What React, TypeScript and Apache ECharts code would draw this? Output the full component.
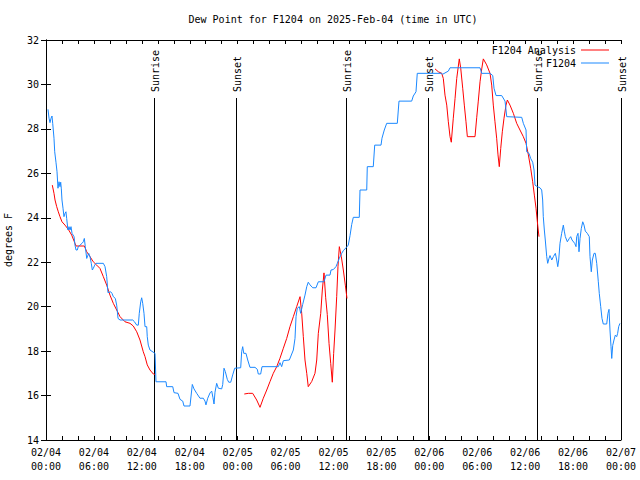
import React, { useEffect, useRef } from "react";
import * as echarts from "echarts";

const FONT = "DejaVu Sans Mono";

const titleText = "Dew Point for F1204 on 2025-Feb-04 (time in UTC)";
const yAxisName = "degrees F";
const xTickLabels = [
  "02/04\n00:00", "02/04\n06:00", "02/04\n12:00", "02/04\n18:00",
  "02/05\n00:00", "02/05\n06:00", "02/05\n12:00", "02/05\n18:00",
  "02/06\n00:00", "02/06\n06:00", "02/06\n12:00", "02/06\n18:00",
  "02/07\n00:00",
];

// hours since 02/04 00:00 UTC
const sunHours = [13.55, 23.8, 37.55, 47.87, 61.5, 71.95];
const sunLabels = ["Sunrise", "Sunset", "Sunrise", "Sunset", "Sunrise", "Sunset"];

const analysisName = "F1204 Analysis";
const stationName = "F1204";

const redHours = [
  0.79, 1.0, 1.13, 1.34, 1.54, 1.75, 2.0, 2.38, 2.79, 3.22, 3.63, 3.76, 4.8, 5.1, 5.51, 5.92,
  6.35, 6.76, 7.18, 7.6, 8.01, 8.43, 8.85, 9.27, 9.89, 10.52, 10.93, 11.36, 11.77, 12.18, 12.4,
  12.68, 13.02, 13.44, 13.65, 19.0,
  24.83, 25.33, 25.88, 26.38, 26.8, 27.21, 27.64, 28.05, 28.46, 28.89, 29.3, 29.72, 30.14,
  30.55, 30.97, 31.39, 31.81, 32.02, 32.22, 32.43, 32.65, 32.84, 33.27, 33.68, 33.9, 34.1,
  34.4, 34.6, 34.81, 35.02, 35.22, 35.44, 35.65, 35.85, 36.02, 36.19, 36.4, 36.56, 36.73,
  36.98, 37.23, 37.48, 37.69, 43.0,
  48.71, 49.13, 49.55, 49.75, 49.96, 50.18, 50.38, 50.59, 50.75, 51.0, 51.22, 51.43, 51.75,
  51.93, 52.18, 52.38, 52.59, 52.76, 53.72, 53.93, 54.13, 54.35, 54.56, 54.76, 55.18, 55.6,
  55.81, 56.01, 56.22, 56.43, 56.6, 56.76, 56.94, 57.14, 57.35, 57.6, 57.77, 58.1, 58.52,
  58.94, 59.35, 59.77, 60.11, 60.4, 60.69, 60.94, 61.15, 61.36, 61.57, 61.73,
];
const redValues = [
  25.47, 25.1, 24.8, 24.5, 24.27, 24.05, 23.82, 23.67, 23.48, 23.22, 22.85, 22.73, 22.73, 22.47,
  22.25, 22.02, 21.87, 21.72, 21.35, 20.97, 20.52, 20.15, 19.85, 19.55, 19.32, 19.25, 19.13,
  18.87, 18.5, 17.97, 17.75, 17.38, 17.15, 16.97, 16.95, null,
  16.07, 16.1, 16.1, 15.8, 15.47, 15.88, 16.25, 16.63, 17.0, 17.3, 17.68, 18.13, 18.57, 19.1,
  19.55, 20.0, 20.45, 19.7, 18.65, 17.6, 17.0, 16.4, 16.63, 17.0, 17.6, 18.8, 19.7, 20.75,
  21.52, 20.4, 19.65, 18.35, 17.45, 16.6, 17.9, 18.95, 20.45, 21.8, 22.7, 22.25, 21.65, 20.97,
  20.37, null,
  30.7, 30.57, 30.5, 30.27, 29.52, 29.07, 28.32, 27.65, 27.4, 28.48, 29.37, 30.27, 31.15, 30.73,
  29.83, 29.07, 28.32, 27.65, 27.65, 28.5, 29.25, 30.12, 30.7, 31.15, 30.88, 30.5, 29.97, 29.07,
  28.32, 27.58, 26.83, 26.3, 27.12, 27.87, 28.48, 29.07, 29.3, 29.07, 28.7, 28.25, 27.95, 27.65,
  27.35, 26.83, 26.23, 25.62, 25.02, 24.43, 23.67, 23.15,
];

const blueHours = [
  0.25, 0.38, 0.5, 0.63, 0.75, 0.84, 1.0, 1.09, 1.25, 1.38, 1.5, 1.63, 1.75, 1.84, 1.92, 2.0,
  2.13, 2.25, 2.38, 2.5, 2.59, 2.75, 2.88, 3.01, 3.13, 3.26, 3.51, 3.63, 3.76, 3.92, 4.04, 4.26,
  4.51, 4.67, 4.8, 4.92, 5.1, 5.22, 5.35, 5.51, 5.67, 5.8, 5.92, 6.1, 6.26, 7.18, 7.39, 7.6,
  7.76, 8.1, 8.26, 8.43, 8.68, 8.85, 9.02, 9.27, 10.86, 11.06, 11.36, 11.56, 11.68, 11.86,
  11.98, 12.11, 12.27, 12.4, 12.61, 12.68, 12.81, 13.02, 13.65, 13.68, 13.77, 15.03, 15.11,
  15.87, 16.03, 16.53, 16.78, 17.12, 17.28, 18.03, 18.32, 18.53, 18.87, 19.28, 19.7, 19.91,
  20.03, 20.25, 20.54, 20.75, 20.91, 21.04, 21.16, 21.37, 21.58, 22.0, 22.13, 22.29, 22.45,
  22.7, 22.88, 23.13, 23.38, 23.63, 24.38, 24.5, 24.63, 24.76, 25.04, 25.26, 25.54, 26.17,
  26.46, 26.58, 26.88, 27.05, 29.09, 29.3, 29.51, 29.72, 30.47, 30.97, 31.18, 31.31, 31.47,
  31.72, 31.89, 32.14, 32.43, 32.65, 32.84, 33.06, 33.4, 33.81, 34.1, 34.81, 35.06, 35.56,
  35.69, 35.98, 36.31, 36.48, 36.73, 37.03, 37.23, 37.57, 37.85, 38.07, 38.28, 38.48, 39.23,
  39.32, 40.16, 40.23, 40.98, 41.16, 41.95, 42.07, 42.36, 42.66, 43.99, 44.2, 45.79, 45.99,
  46.33, 46.49, 49.55, 49.67, 50.38, 50.59, 54.35, 54.56, 55.6, 55.94, 56.1, 56.35, 57.06,
  57.48, 57.69, 59.57, 59.77, 60.11, 60.19, 60.48, 60.69, 60.94, 61.11, 61.23, 61.52, 61.86,
  62.07, 62.19, 62.27, 62.4, 62.52, 62.7, 62.82, 62.99, 63.11, 63.33, 63.53, 63.78, 63.95,
  64.08, 64.2, 64.36, 64.57, 64.78, 64.9, 65.03, 65.28, 65.53, 65.7, 65.87, 66.2, 66.37, 66.45,
  66.62, 66.74, 66.87, 67.03, 67.21, 67.37, 67.53, 67.78, 68.03, 68.12, 68.28, 68.41, 68.62,
  68.78, 68.96, 69.16, 69.28, 69.46, 69.62, 69.78, 70.21, 70.37, 70.5, 70.62, 70.75, 70.84,
  70.96, 71.12, 71.29, 71.46, 71.58, 71.71, 71.87,
];
const blueValues = [
  28.88, 28.48, 28.28, 28.48, 28.58, 28.25, 27.58, 26.97, 26.5, 26.07, 25.33, 25.62, 25.4, 25.6,
  25.3, 24.8, 24.43, 24.05, 24.2, 24.27, 23.97, 23.45, 23.6, 23.45, 23.6, 23.3, 23.15, 22.77,
  22.55, 22.55, 22.7, 22.77, 22.85, 22.92, 23.07, 22.7, 22.17, 22.3, 22.4, 22.25, 21.95, 21.65,
  21.72, 21.87, 21.95, 21.95, 21.8, 21.35, 20.63, 20.67, 20.6, 20.45, 20.37, 20.07, 19.47, 19.4,
  19.4, 19.33, 19.17, 19.17, 19.7, 20.22, 20.4, 20.15, 19.7, 19.1, 19.1, 18.65, 18.27, 18.05,
  17.9, 17.6, 16.62, 16.62, 16.4, 16.4, 16.13, 16.1, 15.83, 15.75, 15.53, 15.53, 16.5, 16.3,
  16.1, 15.88, 15.88, 15.75, 15.58, 15.88, 16.12, 16.2, 15.9, 15.62, 16.15, 16.55, 16.33, 16.3,
  16.5, 17.23, 17.08, 16.73, 16.6, 16.6, 16.93, 17.23, 17.25, 17.97, 18.2, 17.9, 17.9, 17.6,
  17.27, 17.27, 17.18, 16.97, 16.97, 17.3, 17.3, 17.48, 17.3, 17.57, 17.6, 18.05, 18.57, 19.55,
  19.93, 20.0, 19.7, 20.1, 20.52, 20.9, 21.1, 20.98, 20.85, 20.85, 21.12, 21.12, 21.42, 21.42,
  21.65, 21.67, 21.8, 21.95, 22.18, 22.4, 22.52, 22.65, 22.77, 23.2, 23.7, 24.02, 24.02, 25.25,
  25.25, 26.3, 26.3, 27.27, 27.27, 27.58, 27.95, 28.25, 28.25, 29.25, 29.25, 29.48, 29.67, 30.5,
  30.5, 30.46, 30.6, 30.75, 30.75, 30.5, 30.5, 30.4, 29.83, 29.5, 29.5, 29.25, 28.55, 28.52,
  28.25, 27.95, 26.97, 26.9, 26.67, 26.5, 26.15, 25.47, 25.4, 25.35, 25.25, 24.8, 24.05, 23.45,
  23.0, 22.25, 21.95, 22.18, 22.3, 22.1, 22.25, 22.4, 22.1, 21.8, 22.1, 22.85, 23.3, 23.67, 23.4,
  23.15, 22.92, 23.07, 23.15, 23.0, 22.85, 22.7, 23.15, 23.3, 22.47, 23.07, 23.52, 23.82, 23.67,
  23.4, 23.3, 23.15, 22.25, 21.57, 22.1, 22.4, 22.4, 21.95, 21.12, 20.6, 20.0, 19.47, 19.22,
  19.22, 19.7, 19.88, 18.95, 18.2, 17.67, 18.25, 18.5, 18.72, 18.65, 18.8, 19.1, 19.25,
];

const Y_MIN = 14;
const Y_MAX = 32;
const Y_STEP = 2;
const X_MIN = 0;
const X_MAX = 72;
const X_STEP = 6;

export default function App() {
  const ref = useRef<HTMLDivElement | null>(null);

  useEffect(() => {
    document.body.style.margin = "0";
    if (!ref.current) return;
    const chart = echarts.init(ref.current, undefined, { renderer: "svg" });

    const redData = redHours.map((h, i) => [h, redValues[i] === null ? "-" : redValues[i]]);
    const blueData = blueHours.map((h, i) => [h, blueValues[i]]);
    const sunData = sunHours.map((h) => [h, Y_MIN]);

    const tickStyle = { color: "#000", width: 1 };
    const labelStyle = { fontFamily: FONT, fontSize: 10, color: "#000" };

    chart.setOption({
      animation: false,
      backgroundColor: "#fff",
      textStyle: { fontFamily: FONT },
      grid: {
        left: 46,
        right: 19,
        top: 40,
        bottom: 40,
        containLabel: false,
        outerBoundsMode: "none",
      },
      graphic: [
        {
          type: "text",
          x: 333,
          y: 19,
          style: {
            text: titleText,
            fontFamily: FONT,
            fontSize: 10,
            fill: "#000",
            align: "center",
            verticalAlign: "middle",
          },
        },
      ],
      legend: {
        orient: "vertical",
        right: 26,
        top: 39,
        align: "right",
        icon: "rect",
        itemWidth: 28,
        itemHeight: 1,
        itemGap: 1,
        textStyle: { ...labelStyle, lineHeight: 12, fontSize: 10 },
        data: [analysisName, stationName],
      },
      xAxis: [
        {
          type: "value",
          min: X_MIN,
          max: X_MAX,
          interval: X_STEP,
          position: "bottom",
          axisLine: { show: true, lineStyle: { color: "#000", width: 1 } },
          axisTick: { show: true, inside: true, length: 4, lineStyle: tickStyle },
          minorTick: { show: true, splitNumber: 3, length: 4, lineStyle: tickStyle },
          splitLine: { show: false },
          axisLabel: {
            ...labelStyle,
            lineHeight: 14,
            margin: 5,
            formatter: (v: number) => xTickLabels[Math.round(v / X_STEP)] ?? "",
          },
        },
        {
          type: "value",
          min: X_MIN,
          max: X_MAX,
          interval: X_STEP,
          position: "top",
          axisLine: { show: true, lineStyle: { color: "#000", width: 1 } },
          axisTick: { show: true, inside: true, length: 4, lineStyle: tickStyle },
          minorTick: { show: true, splitNumber: 3, length: 4, lineStyle: tickStyle },
          splitLine: { show: false },
          axisLabel: { show: false },
        },
      ],
      yAxis: [
        {
          type: "value",
          min: Y_MIN,
          max: Y_MAX,
          interval: Y_STEP,
          position: "left",
          name: yAxisName,
          nameLocation: "middle",
          nameRotate: 90,
          nameGap: 33,
          nameTextStyle: { ...labelStyle },
          axisLine: { show: true, lineStyle: { color: "#000", width: 1 } },
          axisTick: { show: true, inside: true, length: 5, lineStyle: tickStyle },
          splitLine: { show: false },
          axisLabel: { ...labelStyle, margin: 7 },
        },
        {
          type: "value",
          min: Y_MIN,
          max: Y_MAX,
          interval: Y_STEP,
          position: "right",
          axisLine: { show: true, lineStyle: { color: "#000", width: 1 } },
          axisTick: { show: true, inside: true, length: 5, lineStyle: tickStyle },
          splitLine: { show: false },
          axisLabel: { show: false },
        },
      ],
      series: [
        {
          type: "custom",
          name: "sun",
          xAxisIndex: 0,
          yAxisIndex: 0,
          clip: false,
          silent: true,
          data: sunData,
          renderItem: (params: any, api: any) => {
            const h = api.value(0);
            const top = api.coord([h, Y_MAX]);
            const bot = api.coord([h, Y_MIN]);
            const x = Math.round(top[0]) + 0.5;
            return {
              type: "group",
              children: [
                {
                  type: "line",
                  shape: { x1: x, y1: top[1] + 58, x2: x, y2: bot[1] },
                  style: { stroke: "#000", lineWidth: 1 },
                },
                {
                  type: "text",
                  x: x + 1,
                  y: top[1] + 52,
                  rotation: Math.PI / 2,
                  style: {
                    text: sunLabels[params.dataIndex],
                    fontFamily: FONT,
                    fontSize: 10,
                    fill: "#000",
                    align: "left",
                    verticalAlign: "middle",
                  },
                },
              ],
            };
          },
        },
        {
          type: "line",
          name: analysisName,
          data: redData,
          showSymbol: false,
          connectNulls: false,
          color: "#ff0000",
          lineStyle: { color: "#ff0000", width: 1 },
        },
        {
          type: "line",
          name: stationName,
          data: blueData,
          showSymbol: false,
          color: "#1a88ff",
          lineStyle: { color: "#1a88ff", width: 1 },
        },
      ],
    });

    return () => {
      chart.dispose();
    };
  }, []);

  return <div ref={ref} style={{ width: 640, height: 480 }} />;
}
